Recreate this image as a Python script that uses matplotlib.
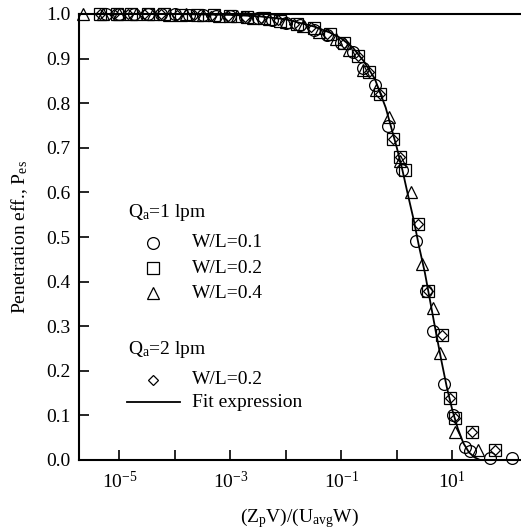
#!/usr/bin/env python3

from matplotlib import pyplot as plt
import numpy as np

plt.rcParams['font.family'] = 'Liberation Serif'
plt.rcParams['mathtext.fontset'] = 'custom'
plt.rcParams['mathtext.rm'] = 'Liberation Serif'
plt.rcParams['mathtext.it'] = 'Liberation Serif:italic'

# Qa=1 lpm, W/L=0.1 (circles)
circ_x = [5.6e-6, 1.0e-5, 1.8e-5, 3.2e-5, 5.6e-5, 1.0e-4, 1.8e-4, 3.2e-4, 5.6e-4, 1.0e-3,
          1.8e-3, 3.2e-3, 5.6e-3, 1.0e-2, 1.8e-2, 3.2e-2, 5.6e-2, 0.10, 0.16, 0.25, 0.40,
          0.69, 1.26, 2.2, 3.3, 4.5, 7.2, 10.5, 16.6, 21.0, 48.0, 120.0]
circ_p = [1.0, 1.0, 1.0, 1.0, 0.999, 0.999, 0.998, 0.997, 0.996, 0.995,
          0.993, 0.99, 0.986, 0.98, 0.975, 0.965, 0.952, 0.935, 0.915, 0.88, 0.84,
          0.75, 0.65, 0.49, 0.38, 0.29, 0.17, 0.10, 0.03, 0.02, 0.005, 0.005]

# Qa=1 lpm, W/L=0.2 (squares)
sq_x = [4.5e-6, 8.9e-6, 1.6e-5, 3.2e-5, 6.3e-5, 1.3e-4, 2.5e-4, 5.0e-4, 1.0e-3, 2.0e-3,
        4.0e-3, 7.9e-3, 1.6e-2, 3.2e-2, 6.3e-2, 0.11, 0.20, 0.32, 0.50, 0.85, 1.12,
        1.41, 2.4, 3.6, 6.5, 8.9, 11.2, 22.4, 59.0]
sq_p = [1.0, 1.0, 0.999, 1.0, 0.999, 0.998, 0.997, 0.997, 0.995, 0.994,
        0.99, 0.985, 0.978, 0.968, 0.955, 0.935, 0.905, 0.87, 0.82, 0.72, 0.68,
        0.65, 0.53, 0.38, 0.28, 0.14, 0.094, 0.063, 0.022]

# Qa=1 lpm, W/L=0.4 (triangles)
tri_x = [2.2e-6, 5.0e-6, 1.0e-5, 2.0e-5, 4.0e-5, 7.9e-5, 1.6e-4, 3.2e-4, 6.3e-4, 1.3e-3,
         2.5e-3, 5.0e-3, 1.0e-2, 2.0e-2, 4.0e-2, 7.9e-2, 0.14, 0.25, 0.42, 0.71, 1.12,
         1.78, 2.8, 4.5, 5.9, 11.2, 28.8]
tri_p = [1.0, 1.0, 1.0, 0.999, 1.0, 0.998, 0.999, 0.997, 0.996, 0.995,
         0.99, 0.988, 0.982, 0.972, 0.96, 0.945, 0.92, 0.875, 0.83, 0.77, 0.67,
         0.6, 0.44, 0.34, 0.24, 0.063, 0.022]

# Qa=2 lpm, W/L=0.2 (diamonds)
dia_x = [4.5e-6, 7.9e-6, 1.4e-5, 2.8e-5, 5.6e-5, 1.1e-4, 2.2e-4, 4.5e-4, 8.9e-4, 1.8e-3,
         3.5e-3, 7.1e-3, 1.4e-2, 2.8e-2, 5.6e-2, 0.11, 0.20, 0.32, 0.50, 0.85, 1.12,
         2.4, 3.6, 6.5, 8.9, 11.2, 22.4, 59.0]
dia_p = [1.0, 1.0, 1.0, 0.999, 0.999, 0.998, 0.998, 0.996, 0.995, 0.993,
         0.99, 0.986, 0.978, 0.97, 0.955, 0.935, 0.905, 0.87, 0.82, 0.72, 0.68,
         0.53, 0.38, 0.28, 0.14, 0.094, 0.063, 0.022]

# fit expression
fit_x = [1.9e-6, 1.0e-4, 1.0e-3, 3.2e-3, 1.0e-2, 3.2e-2, 6.3e-2, 0.10, 0.16, 0.25,
         0.40, 0.63, 1.0, 1.26, 1.58, 2.0, 2.5, 3.2, 4.0, 5.0, 6.3, 7.9, 10.0,
         12.6, 15.8, 20.0, 25.1, 31.6, 166.0]
fit_p = [1.0, 1.0, 0.998, 0.995, 0.988, 0.972, 0.958, 0.945, 0.925, 0.895,
         0.855, 0.79, 0.70, 0.65, 0.595, 0.54, 0.48, 0.42, 0.355, 0.29, 0.225, 0.165, 0.112,
         0.07, 0.038, 0.017, 0.006, 0.0, 0.0]

fig = plt.figure(figsize=(5.21, 5.31), dpi=100)
ax = fig.add_axes([79/521, 1-460/531, 441/521, 446/531])

mk = dict(linestyle='none', markerfacecolor='none', markeredgecolor='black',
          markeredgewidth=0.9, clip_on=False)
ax.plot(fit_x, fit_p, color='black', lw=1.3, clip_on=False)
ax.plot(circ_x, circ_p, marker='o', markersize=8.5, **mk)
ax.plot(sq_x, sq_p, marker='s', markersize=8, **mk)
ax.plot(tri_x, tri_p, marker='^', markersize=8.5, **mk)
ax.plot(dia_x, dia_p, marker='D', markersize=5.5, **mk)

ax.set_xscale('log')
ax.set_xlim(10**-5.73, 10**2.22)
ax.set_ylim(0, 1.0)

decades = [-5, -4, -3, -2, -1, 0, 1]
ax.set_xticks([10.0**d for d in decades],
              ['$10^{%d}$' % d if d % 2 else '' for d in decades])
ax.xaxis.set_minor_locator(plt.NullLocator())
ax.set_yticks(np.arange(0, 1.01, 0.1), ['%.1f' % v for v in np.arange(0, 1.01, 0.1)])

ax.tick_params(direction='in', length=7, width=1.2, labelsize=14, pad=8)
ax.tick_params(axis='y', pad=6)
ax.spines['right'].set_visible(False)
for s in ['left', 'bottom', 'top']:
    ax.spines[s].set_linewidth(1.5)

ax.set_xlabel('(Z$_\\mathrm{p}$V)/(U$_\\mathrm{avg}$W)', fontsize=14, labelpad=10)
ax.set_ylabel('Penetration eff., P$_\\mathrm{es}$', fontsize=14, labelpad=12)

# legend drawn by hand
tr = ax.transAxes
ax.text(0.111, 0.555, 'Q$_\\mathrm{a}$=1 lpm', transform=tr, fontsize=14, va='center')
rows = [('o', 8.5, 0.487, 'W/L=0.1'), ('s', 8, 0.43, 'W/L=0.2'), ('^', 8.5, 0.374, 'W/L=0.4')]
for m, ms, yy, lab in rows:
    ax.plot([0.168], [yy], marker=m, markersize=ms, transform=tr, **mk)
    ax.text(0.256, yy, lab, transform=tr, fontsize=14, va='center')
ax.text(0.111, 0.247, 'Q$_\\mathrm{a}$=2 lpm', transform=tr, fontsize=14, va='center')
ax.plot([0.168], [0.18], marker='D', markersize=5.5, transform=tr, **mk)
ax.text(0.256, 0.18, 'W/L=0.2', transform=tr, fontsize=14, va='center')
ax.plot([0.109, 0.229], [0.13, 0.13], color='black', lw=1.3, transform=tr)
ax.text(0.256, 0.13, 'Fit expression', transform=tr, fontsize=14, va='center')

plt.savefig('out.png', dpi=100)
